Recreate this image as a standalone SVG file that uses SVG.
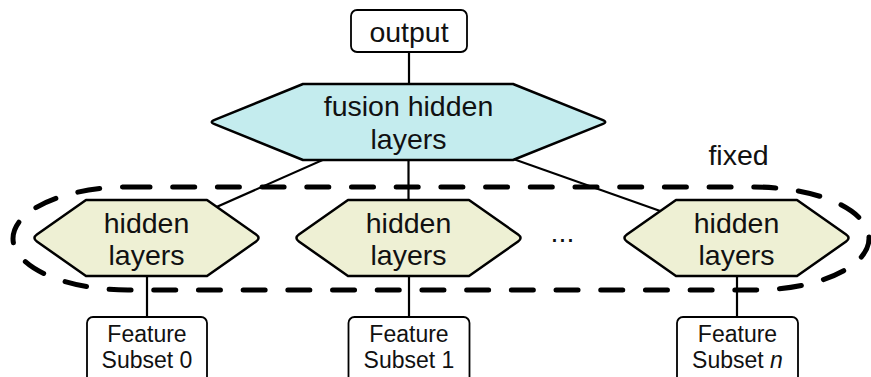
<svg xmlns="http://www.w3.org/2000/svg" xmlns:xlink="http://www.w3.org/1999/xlink" width="871" height="377" viewBox="0 0 871 377">
  <style>
    text { font-family: "Liberation Sans", Arial, Helvetica, sans-serif; fill: #111; text-anchor: middle; }
    .big { font-size: 28.5px; }
    .small { font-size: 23px; }
    .edge { stroke: #000; stroke-width: 2.2; fill: none; }
    .box { fill: #fff; stroke: #000; stroke-width: 1.8; }
    .hex { stroke: #000; stroke-width: 2.5; stroke-linejoin: round; }
    .fusion { fill: #c4ecee; }
    .hidden { fill: #eef0d4; }
    .dashed { fill: none; stroke: #000; stroke-width: 5; stroke-linecap: round; stroke-dasharray: 22 22.7; }
  </style>
  <defs>
    <!-- hexagon for a per-subset hidden block, centred on (0,0) -->
    <path id="hexSmall" d="M -60.5,-38 L 60.5,-38 L 109.6,-3.5 Q 114.5,0 109.6,3.5 L 60.5,38 L -60.5,38 L -109.6,3.5 Q -114.5,0 -109.6,-3.5 Z"/>
  </defs>

  <!-- connectors, drawn first so nodes sit on top -->
  <g id="connectors">
    <path class="edge" d="M409 52 V122"/>
    <path class="edge" d="M408.5 122 L146.5 238"/>
    <path class="edge" d="M408.5 122 V238"/>
    <path class="edge" d="M408.5 122 L736.5 238"/>
    <path class="edge" d="M147 238 V317"/>
    <path class="edge" d="M409 238 V317"/>
    <path class="edge" d="M737 238 V317"/>
  </g>

  <!-- dashed outline around the frozen sub-networks -->
  <g id="fixed-region">
    <rect class="dashed" x="13" y="187" width="856" height="103" rx="115" ry="51.5"/>
    <text class="big" x="738.5" y="165">fixed</text>
  </g>

  <g id="output">
    <rect class="box" x="351" y="10" width="116" height="42" rx="6"/>
    <text class="big" x="409" y="42">output</text>
  </g>

  <g id="fusion">
    <path class="hex fusion" d="M303,84 L513,84 L602.4,119.8 Q608,122 602.4,124.2 L513,160 L303,160 L214.6,124.2 Q209,122 214.6,119.8 Z"/>
    <text class="big" x="408.5" y="116">fusion hidden</text>
    <text class="big" x="408.5" y="149">layers</text>
  </g>

  <g id="hidden0">
    <use href="#hexSmall" xlink:href="#hexSmall" class="hex hidden" transform="translate(146.5 238)"/>
    <text class="big" x="146.5" y="233">hidden</text>
    <text class="big" x="146.5" y="265">layers</text>
  </g>

  <g id="hidden1">
    <use href="#hexSmall" xlink:href="#hexSmall" class="hex hidden" transform="translate(408.5 238)"/>
    <text class="big" x="408.5" y="233">hidden</text>
    <text class="big" x="408.5" y="265">layers</text>
  </g>

  <g id="ellipsis">
    <text class="big" x="562.5" y="242">...</text>
  </g>

  <g id="hiddenN">
    <use href="#hexSmall" xlink:href="#hexSmall" class="hex hidden" transform="translate(736.5 238)"/>
    <text class="big" x="736.5" y="233">hidden</text>
    <text class="big" x="736.5" y="265">layers</text>
  </g>

  <g id="subset0">
    <rect class="box" x="87" y="317" width="120" height="72" rx="6"/>
    <text class="small" x="147" y="342">Feature</text>
    <text class="small" x="147" y="368">Subset 0</text>
  </g>

  <g id="subset1">
    <rect class="box" x="348.5" y="317" width="121" height="72" rx="6"/>
    <text class="small" x="409" y="342">Feature</text>
    <text class="small" x="409" y="368">Subset 1</text>
  </g>

  <g id="subsetN">
    <rect class="box" x="677" y="317" width="121" height="72" rx="6"/>
    <text class="small" x="737.5" y="342">Feature</text>
    <text class="small" x="737.5" y="368">Subset <tspan font-style="italic">n</tspan></text>
  </g>
</svg>
